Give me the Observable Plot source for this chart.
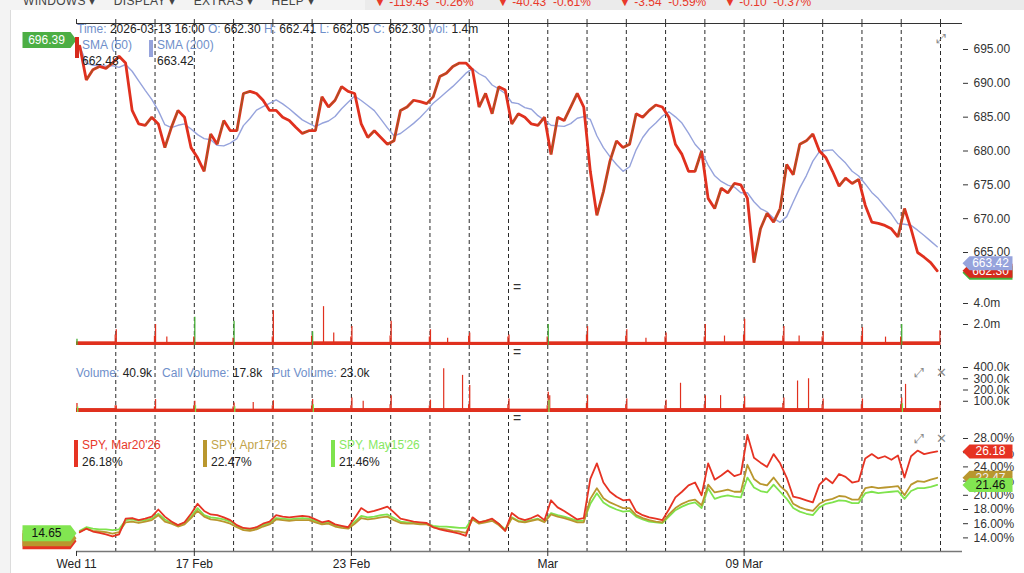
<!DOCTYPE html>
<html><head><meta charset="utf-8">
<script src="https://cdn.jsdelivr.net/npm/d3@7"></script>
<script src="https://cdn.jsdelivr.net/npm/@observablehq/plot@0.6"></script>
<style>
body{margin:0;background:#fff;font-family:"Liberation Sans",Arial,Helvetica,sans-serif;}
#wrap{position:relative;width:1024px;height:573px;overflow:hidden;background:#fff;}
#wrap svg{position:absolute;left:0;top:0;}
.t{position:absolute;font-size:12px;line-height:14px;white-space:nowrap;color:#222;}
.k{color:#6f8fca;}
.bar{position:absolute;width:4px;}
.ic{position:absolute;color:#8a8a8a;font-size:13px;line-height:13px;font-family:"DejaVu Sans",sans-serif;}
.tb{position:absolute;z-index:5;}
.tbt{z-index:6;}
</style></head>
<body><div id="wrap"></div>
<script>
// ---------- data ----------
const days = ["Wed 11","Thu 12","Fri 13","Tue 17","Wed 18","Thu 19","Fri 20","Mon 23","Tue 24","Wed 25","Thu 26","Fri 27",
  "Mon 02","Tue 03","Wed 04","Thu 05","Fri 06","Mon 09","Tue 10","Wed 11","Thu 12","Fri 13"];
const axisLabelDays = [0, 3, 7, 12, 17];
const axisLabels = ["Wed 11", "17 Feb", "23 Feb", "Mar", "09 Mar"];
const pointsPerDay = 6;

const closes = [
 695.5,690.5,692.0,692.5,692.2,693.0,
 694.0,693.0,686.0,684.0,683.8,685.0,
 684.0,680.5,683.5,686.0,685.0,680.5,
 679.0,677.0,682.5,681.0,684.5,683.0,
 683.0,688.5,688.8,688.5,687.5,686.0,
 686.0,685.0,684.5,683.5,682.6,683.0,
 683.0,688.0,686.5,687.5,689.5,688.8,
 688.5,684.0,682.0,683.0,682.0,681.0,
 681.5,686.0,686.5,687.5,687.3,687.0,
 688.0,691.0,691.5,692.5,693.0,693.0,
 692.0,686.5,688.5,685.5,689.5,689.0,
 684.0,685.5,685.0,684.0,683.8,685.0,
 679.5,685.0,684.5,686.5,688.5,686.5,
 677.0,670.5,674.0,678.5,681.5,680.5,
 681.0,685.5,685.0,686.0,686.8,686.5,
 685.0,681.0,679.5,677.0,677.0,680.0,
 673.0,671.5,674.5,673.8,675.2,675.0,
 673.0,663.5,668.5,670.8,669.5,671.5,
 678.0,676.5,681.0,681.5,682.5,680.0,
 679.0,677.0,674.8,676.0,675.2,675.8,
 672.0,669.5,669.3,669.0,668.5,667.3,
 671.5,668.5,665.0,664.3,663.5,662.3];
const priceTicks = [665, 670, 675, 680, 685, 690, 695];
const priceFirstTag = 696.39;
const smaLast = 663.42;
const closeLast = 662.30;

const stockVolOpen  = [0.6,1.5,2.0,2.7,2.3,3.3,1.3,1.8,2.3,1.5,1.2,1.0,2.0,1.8,1.5,1.2,2.0,2.5,1.8,1.3,1.7,2.0];
const stockOpenDir  = ["up","dn","dn","up","up","dn","up","dn","dn","dn","dn","dn","up","dn","dn","dn","dn","dn","dn","dn","dn","up"];
const stockVolClose = [1.0,0.9,0.8,0.7,0.8,0.9,0.8,0.9,0.8,0.9,0.8,0.8,1.0,0.9,0.8,0.8,1.0,0.9,0.8,0.9,0.8,1.4];
const stockVolBase  = [0.35,0.3,0.3,0.3,0.3,0.3,0.35,0.3,0.3,0.3,0.3,0.3,0.35,0.35,0.3,0.3,0.35,0.4,0.35,0.3,0.3,0.35];
const stockSpikeDay  = [6, 6, 2, 14, 18, 20, 9, 16];
const stockSpikeFrac = [0.29, 0.55, 0.3, 0.5, 0.4, 0.6, 0.45, 0.5];
const stockSpikeVol  = [3.7, 1.2, 0.8, 0.7, 0.9, 0.8, 0.7, 0.9];
const stockVolTicks = [2, 4];

const optVolOpen  = [80,60,115,100,85,105,115,130,150,110,240,120,180,150,120,110,150,140,130,120,120,130];
const optVolClose = [60,50,60,50,60,60,60,70,60,70,70,60,80,70,60,70,70,80,70,70,70,100];
const optVolBase  = [35,30,30,30,30,30,35,35,35,35,35,30,35,35,30,35,35,40,35,30,35,35];
const optSpikeDay  = [9, 9, 15, 18, 18, 21, 12, 16, 4, 7];
const optSpikeFrac = [0.35, 0.83, 0.38, 0.36, 0.64, 0.11, 0.05, 0.4, 0.5, 0.3];
const optSpikeVol  = [390, 330, 260, 280, 300, 250, 150, 150, 90, 100];
const optVolTicks = [100, 200, 300, 400];

const ivMar20 = [
 14.8,15.3,14.9,14.7,14.5,14.2, 14.5,16.7,16.8,16.5,16.7,17.0, 18.0,17.0,16.3,15.8,16.2,17.4,
 18.8,17.8,17.3,17.2,16.9,16.5, 15.8,15.4,15.3,15.5,16.0,16.3, 17.2,17.0,16.9,17.0,17.1,17.0,
 16.6,16.2,16.4,15.9,15.7,15.5, 16.8,18.2,17.6,17.8,18.1,18.4, 17.6,16.7,16.5,16.3,16.2,16.1,
 15.5,15.2,15.0,14.8,14.6,14.3, 16.9,16.2,16.4,16.7,16.0,15.0, 17.5,16.8,16.5,16.8,17.2,16.5,
 19.3,18.3,17.8,17.2,16.6,16.8, 22.3,24.5,21.8,20.5,19.8,19.3, 19.4,17.7,17.2,16.9,16.7,16.5,
 18.0,19.7,20.5,21.4,21.8,20.0, 24.5,22.2,22.8,23.5,22.7,23.0, 28.5,25.3,24.6,24.0,25.8,24.5,
 22.5,19.8,19.6,19.3,19.0,21.5, 22.4,21.7,23.0,22.6,21.8,22.0, 25.2,25.8,25.2,25.5,25.0,25.6,
 22.5,25.5,26.3,25.8,26.0,26.18];
const ivApr17 = [
 14.9,15.3,15.0,14.9,14.8,14.6, 14.8,16.2,16.3,16.1,16.3,16.5, 17.2,16.3,16.0,15.6,15.9,16.8,
 17.8,17.0,16.6,16.5,16.3,16.0, 15.5,15.1,15.0,15.2,15.6,15.9, 16.6,16.5,16.4,16.5,16.5,16.5,
 16.2,15.9,16.0,15.6,15.4,15.3, 16.0,16.8,16.6,16.7,16.9,17.0, 16.5,16.1,16.0,16.0,15.9,15.9,
 15.5,15.3,15.2,15.0,14.9,14.7, 16.6,16.0,16.2,16.4,15.8,15.0, 16.8,16.3,16.2,16.4,16.6,16.2,
 17.3,17.0,16.8,16.5,16.2,16.2, 19.5,21.0,19.6,19.0,18.6,18.2, 18.2,17.2,16.8,16.5,16.3,16.2,
 17.3,18.2,18.8,19.2,19.4,18.6, 21.5,20.4,20.6,20.8,20.5,20.5, 24.3,22.3,21.6,21.4,22.5,21.3,
 20.5,18.8,18.3,18.0,17.8,18.8, 19.3,19.5,19.9,19.8,19.4,19.4, 21.0,21.2,21.0,21.1,21.2,21.3,
 20.0,21.5,22.0,21.9,22.2,22.47];
const ivMay15 = [
 15.0,15.5,15.3,15.2,15.2,15.1, 15.2,16.5,16.6,16.4,16.5,16.7, 17.4,16.6,16.1,15.8,16.1,17.0,
 18.2,17.2,16.9,16.8,16.6,16.3, 15.7,15.3,15.2,15.4,15.8,16.1, 16.8,16.7,16.6,16.7,16.8,16.7,
 16.4,16.0,16.2,15.8,15.6,15.4, 16.3,17.1,16.9,17.0,17.2,17.3, 16.8,16.3,16.2,16.1,16.0,16.0,
 15.7,15.6,15.6,15.5,15.4,15.4, 16.8,16.2,16.4,16.6,16.0,15.2, 16.9,16.4,16.3,16.5,16.7,16.3,
 17.5,17.2,17.0,16.7,16.4,16.4, 18.8,20.3,19.0,18.4,18.0,17.7, 17.8,17.0,16.6,16.3,16.2,16.1,
 17.0,17.9,18.4,18.8,19.0,18.2, 21.0,19.5,19.8,20.0,19.8,19.7, 22.5,21.1,20.6,20.4,21.5,20.5,
 19.5,18.2,17.7,17.4,17.2,18.3, 18.8,19.0,19.3,19.2,18.9,18.9, 20.3,20.5,20.3,20.4,20.5,20.6,
 19.5,20.6,21.0,21.0,21.2,21.46];
const ivTicks = [14, 16, 18, 20, 22, 24, 26, 28];
const ivFirstTag = 14.65;

const ohlcKeys = ["Time:", "O:", "H:", "L:", "C:", "Vol:"];
const ohlcVals = ["2026-03-13 16:00", "662.30", "662.41", "662.05", "662.30", "1.4m"];
const optKeys = ["Volume:", "Call Volume:", "Put Volume:"];
const optVals = ["40.9k", "17.8k", "23.0k"];
const ivNames = ["SPY, Mar20'26", "SPY, Apr17'26", "SPY, May15'26"];
const menuItems = ["WINDOWS", "DISPLAY", "EXTRAS", "HELP"];
const tickerChanges = [["-119.43", "-0.26%"], ["-40.43", "-0.61%"], ["-3.54", "-0.59%"], ["-0.10", "-0.37%"]];

// ---------- setup ----------
const RED = "#e0301e", GREEN = "#3c9c2c", LAV = "#96a3dc";
const C_MAR = "#e63323", C_APR = "#b9972e", C_MAY = "#7fe34d";
const nDays = days.length;
const tOf = i => Math.floor(i / pointsPerDay) + (i % pointsPerDay + 0.5) / pointsPerDay;
const pts = closes.map((c, i) => ({t: tOf(i), close: c, mar: ivMar20[i], apr: ivApr17[i], may: ivMay15[i]}));
const ups = [];
for (let i = 1; i < pts.length; i++) if (pts[i].close > pts[i-1].close) ups.push({a: pts[i-1], b: pts[i]});
const dayIdx = d3.range(nDays);

const fam = '"Liberation Sans", Arial, Helvetica, sans-serif';
const wrap = document.getElementById("wrap");
const base = {width: 1024, height: 573, marginLeft: 76, marginRight: 62, marginTop: 0, marginBottom: 0,
  style: {background: "transparent", overflow: "visible", fontFamily: fam, fontSize: "12px", color: "#333"}};
const xOpt = {domain: [0, nDays], range: [76, 940], axis: null, label: null};

const tagR = {draw(ctx) { ctx.moveTo(0, 0); ctx.lineTo(7, -7); ctx.lineTo(50, -7); ctx.lineTo(50, 7); ctx.lineTo(7, 7); ctx.closePath(); }};
const tagL = {draw(ctx) { ctx.moveTo(0, 0); ctx.lineTo(-6, -8); ctx.lineTo(-54, -8); ctx.lineTo(-54, 8); ctx.lineTo(-6, 8); ctx.closePath(); }};
const xEnd = () => nDays, xStart = () => 0;
function rightTag(v, fill, textFill, dy = 0, label = true) {
  const m = [Plot.dot([v], {x: xEnd, y: d => d, symbol: tagR, fill, dx: 22, dy})];
  if (label) m.push(Plot.text([v], {x: xEnd, y: d => d, text: d => d.toFixed(2), dx: 50, dy, fill: textFill, fontSize: 12}));
  return m;
}
function yAxis(ticks, fmt) {
  return Plot.axisY({anchor: "right", ticks, tickSize: 5, tickPadding: 6, tickFormat: fmt, fill: "#333", label: null});
}
function add(svg) { wrap.appendChild(svg); }

// ---------- frame: day separators and axes ----------
add(Plot.plot({...base, marginTop: 23, marginBottom: 22,
  x: {domain: [0, nDays], range: [76, 940], label: null}, y: {domain: [0, 1], axis: null, label: null},
  marks: [
    Plot.ruleX(d3.range(1, nDays + 1), {stroke: "#2a2a2a", strokeDasharray: "4,3", strokeWidth: 1}),
    Plot.ruleY([1], {stroke: "#333", strokeWidth: 1.2}),
    Plot.ruleY([0], {stroke: "#777", strokeWidth: 1.5}),
    Plot.axisX({anchor: "top", ticks: d3.range(0, nDays + 1), tickSize: 5, tickFormat: () => "", label: null}),
    Plot.axisX({anchor: "bottom", ticks: axisLabelDays, tickSize: 5, tickPadding: 3, label: null,
      tickFormat: d => axisLabels[axisLabelDays.indexOf(d)], fill: "#222", fontSize: 12})
  ]}));

// ---------- price panel ----------
add(Plot.plot({...base, x: xOpt, y: {domain: [665, 695], range: [252, 49], label: null},
  marks: [
    yAxis(priceTicks, d => d.toFixed(2)),
    Plot.line(pts, Plot.windowY({k: 6, anchor: "end"}, {x: "t", y: "close", stroke: LAV, strokeWidth: 1.4})),
    Plot.line(pts, {x: "t", y: "close", stroke: RED, strokeWidth: 2.8, strokeLinejoin: "bevel"}),
    Plot.link(ups, {x1: d => d.a.t, y1: d => d.a.close, x2: d => d.b.t, y2: d => d.b.close, stroke: GREEN, strokeWidth: 0.6, strokeOpacity: 0.8}),
    ...rightTag(closeLast, "#44b33a", "white", 2, false),
    ...rightTag(closeLast, "#d62a1c", "white", 0, true),
    ...rightTag(smaLast, LAV, "white", 0, true),
    Plot.dot([priceFirstTag], {x: xStart, y: d => d, symbol: tagL, fill: "#4cae44"}),
    Plot.text([priceFirstTag], {x: xStart, y: d => d, text: d => d.toFixed(2), dx: -30, fill: "white", fontSize: 12})
  ]}));

// ---------- stock volume panel ----------
const sSpikes = stockSpikeDay.map((d, i) => ({t: d + stockSpikeFrac[i], v: stockSpikeVol[i]}));
add(Plot.plot({...base, x: xOpt, y: {domain: [0, 4], range: [345, 303], label: null},
  marks: [
    yAxis(stockVolTicks, d => d.toFixed(1) + "m"),
    Plot.rect(dayIdx, {x1: d => d, x2: d => d + 1, y1: 0, y2: d => stockVolBase[d], fill: RED}),
    Plot.ruleX(sSpikes, {x: "t", y1: 0, y2: "v", stroke: RED, strokeWidth: 1.2}),
    Plot.ruleX(dayIdx.filter(d => stockOpenDir[d] === "dn"), {x: d => d + 0.012, y1: 0, y2: d => stockVolOpen[d], stroke: RED, strokeWidth: 1.3}),
    Plot.ruleX(dayIdx.filter(d => stockOpenDir[d] === "up"), {x: d => d + 0.012, y1: 0, y2: d => stockVolOpen[d], stroke: "#46b036", strokeWidth: 1.3}),
    Plot.ruleX(dayIdx, {x: d => d + 0.985, y1: 0, y2: d => stockVolClose[d], stroke: RED, strokeWidth: 1.2})
  ]}));

// ---------- options volume panel ----------
const oSpikes = optSpikeDay.map((d, i) => ({t: d + optSpikeFrac[i], v: optSpikeVol[i]}));
add(Plot.plot({...base, x: xOpt, y: {domain: [0, 400], range: [412, 367], label: null},
  marks: [
    yAxis(optVolTicks, d => d.toFixed(1) + "k"),
    Plot.rect(dayIdx, {x1: d => d, x2: d => d + 1, y1: 0, y2: d => optVolBase[d], fill: RED}),
    Plot.ruleX(oSpikes, {x: "t", y1: 0, y2: "v", stroke: RED, strokeWidth: 1.2}),
    Plot.ruleX(dayIdx, {x: d => d + 0.012, y1: 0, y2: d => optVolOpen[d], stroke: RED, strokeWidth: 1.3}),
    Plot.ruleX(dayIdx.filter(d => stockOpenDir[d] === "up"), {x: d => d + 0.03, y1: 0, y2: d => optVolOpen[d] * 0.6, stroke: "#7fe34d", strokeWidth: 1.3}),
    Plot.ruleX(dayIdx, {x: d => d + 0.985, y1: 0, y2: d => optVolClose[d], stroke: RED, strokeWidth: 1.2})
  ]}));

// ---------- implied volatility panel ----------
add(Plot.plot({...base, x: xOpt, y: {domain: [14, 28], range: [537.4, 438], label: null},
  marks: [
    yAxis(ivTicks, d => d.toFixed(2) + "%"),
    Plot.line(pts, {x: "t", y: "may", stroke: C_MAY, strokeWidth: 1.8}),
    Plot.line(pts, {x: "t", y: "apr", stroke: C_APR, strokeWidth: 1.8}),
    Plot.line(pts, {x: "t", y: "mar", stroke: C_MAR, strokeWidth: 1.8}),
    ...rightTag(ivMar20[ivMar20.length - 1], "#e63323", "white"),
    ...rightTag(ivApr17[ivApr17.length - 1], "#b9972e", "#eee"),
    ...rightTag(ivMay15[ivMay15.length - 1], "#82e551", "#111"),
    Plot.dot([ivFirstTag], {x: xStart, y: d => d, symbol: tagL, fill: "#e63323", dy: 8}),
    Plot.dot([ivFirstTag], {x: xStart, y: d => d, symbol: tagL, fill: "#b9972e", dy: 5}),
    Plot.dot([ivFirstTag], {x: xStart, y: d => d, symbol: tagL, fill: "#82e551"}),
    Plot.text([ivFirstTag], {x: xStart, y: d => d, text: d => d.toFixed(2), dx: -30, fill: "#111", fontSize: 12})
  ]}));

// ---------- HTML chrome & legends ----------
function div(cls, css, html) { const e = document.createElement("div"); e.className = cls; e.style.cssText = css; e.innerHTML = html; wrap.appendChild(e); return e; }
// toolbar
div("tb", "left:0;top:0;width:365px;height:10px;background:#f3f3f3;", "");
div("tb", "left:365px;top:0;width:659px;height:10px;background:#ebebeb;", "");
div("tb", "left:0;top:10px;width:10px;height:563px;background:#f3f3f3;border-right:1px solid #dcdcdc;", "");
div("t tbt", "left:23px;top:-6px;color:#444;font-size:12px;letter-spacing:0.3px;",
  menuItems.map(m => m + " &#9662;").join("&nbsp;&nbsp;&nbsp;&nbsp;&nbsp;"));
const tickX = [374, 497, 619, 724];
tickerChanges.forEach((c, i) => div("t tbt", `left:${tickX[i]}px;top:-5px;color:#e8392b;`, "&#9660; " + c[0] + "&nbsp; " + c[1]));
// OHLC legend
div("t", "left:77px;top:22px;", ohlcKeys.map((k, i) => `<span class="k">${k}</span> ${ohlcVals[i]}`).join(" "));
div("bar", "left:75px;top:37px;height:21px;background:#d62a1c;", "");
div("t", "left:82px;top:38px;color:#6f8fca;", "SMA (50)");
div("t", "left:82px;top:54px;", "662.48");
div("bar", "left:149px;top:40px;height:17px;background:" + LAV + ";", "");
div("t", "left:157px;top:38px;color:#6f8fca;", "SMA (200)");
div("t", "left:157px;top:54px;", smaLast.toFixed(2));
// options volume legend
div("t", "left:76px;top:366px;", optKeys.map((k, i) => `<span class="k">${k}</span> ${optVals[i]}`).join("&nbsp;&nbsp; "));
// IV legend
const ivLast = [ivMar20, ivApr17, ivMay15].map(a => a[a.length - 1]);
const ivCols = ["#e63323", "#b9972e", "#7fe34d"], ivText = ["#e8392b", "#c2a44a", "#86e862"], ivX = [74, 203, 331];
ivNames.forEach((n, i) => {
  div("bar", `left:${ivX[i]}px;top:440px;height:27px;width:4px;background:${ivCols[i]};`, "");
  div("t", `left:${ivX[i] + 8}px;top:438px;color:${ivText[i]};`, n);
  div("t", `left:${ivX[i] + 8}px;top:455px;`, ivLast[i].toFixed(2) + "%");
});
// separators and icons
[280, 345, 411].forEach(y => div("t", `left:513px;top:${y}px;font-size:14px;color:#333;`, "="));
div("ic", "left:936px;top:32px;", "&#10530;");
div("ic", "left:914px;top:366px;", "&#10530;");
div("ic", "left:936px;top:366px;", "&#10005;");
div("ic", "left:914px;top:432px;", "&#10530;");
div("ic", "left:936px;top:432px;", "&#10005;");
</script></body></html>
